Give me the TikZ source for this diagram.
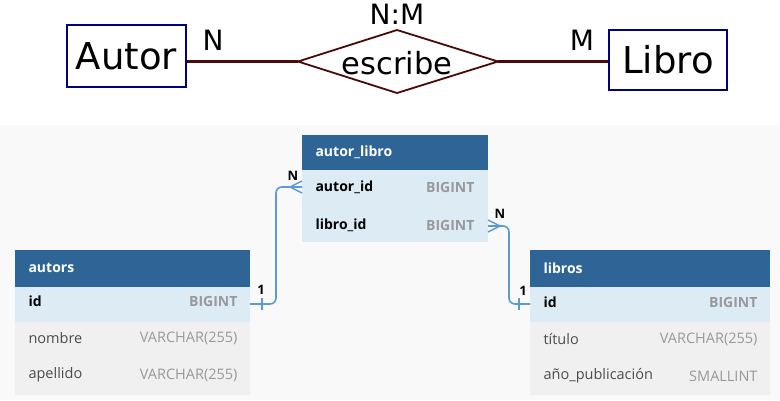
\documentclass[tikz,border=0pt]{standalone}
\usepackage{fontspec}
\setmainfont{Open Sans}
\newfontfamily\djv{DejaVu Sans}
\begin{document}
\definecolor{hdr}{HTML}{2F6596}
\definecolor{rowb}{HTML}{DDEBF5}
\definecolor{rowg}{HTML}{F0F0F0}
\definecolor{bgg}{HTML}{F9F9F9}
\definecolor{ln}{HTML}{5B9BD5}
\definecolor{er}{HTML}{4A0A0A}
\definecolor{nv}{HTML}{000080}
\definecolor{typ}{HTML}{999999}
\begin{tikzpicture}[x=1pt,y=-1pt,
  ent/.style={draw=nv,line width=1.6pt,inner sep=0pt,font=\djv\fontsize{37}{37}\selectfont},
  lab/.style={font=\djv\fontsize{28}{28}\selectfont},
  hd/.style={font=\bfseries\fontsize{14}{14}\selectfont,text=white,anchor=west},
  fld/.style={font=\fontsize{14.5}{14}\selectfont,anchor=west},
  bfld/.style={font=\bfseries\fontsize{14}{14}\selectfont,anchor=west},
  tp/.style={font=\fontsize{14.5}{14}\selectfont,text=typ,anchor=east},
  btp/.style={font=\bfseries\fontsize{14}{14}\selectfont,text=typ,anchor=east},
  con/.style={draw=ln,line width=1.6pt,rounded corners=6pt},
  card/.style={font=\bfseries\fontsize{13}{13}\selectfont}]
\useasboundingbox (0,0) rectangle (780,400);
\fill[white] (0,0) rectangle (780,125);
\fill[bgg] (0,125) rectangle (780,400);
% ER
\node[ent,minimum width=119pt,minimum height=62pt] (autor) at (126.5,56) {Autor};
\node[ent,minimum width=118pt,minimum height=60pt] (libro) at (668,60) {Libro};
\coordinate (dW) at (298,61.5);
\coordinate (dE) at (498,61.5);
\draw[er,line width=1.8pt] (dW) -- (397,30) -- (dE) -- (397,93) -- cycle;
\node[font=\djv\fontsize{30.5}{30}\selectfont] (rel) at (397,63) {escribe};
\draw[er,line width=3.5pt] (autor.east|-dW) -- (dW);
\draw[er,line width=3.5pt] (dE) -- (libro.west|-dE);
\node[lab] (n1) at (213,40) {N};
\node[lab] (m1) at (582,40) {M};
\node[lab] (nm) at (397,14) {N:M};
% autor_libro
\fill[hdr] (302,135) rectangle (488,170);
\fill[rowb] (302,170) rectangle (488,242);
\node[hd] (alh) at (312,152) {autor\_libro};
\node[bfld] (al1) at (312,187) {autor\_id};
\node[btp] (al1t) at (478,187) {BIGINT};
\node[bfld] (al2) at (312,225) {libro\_id};
\node[btp] (al2t) at (478,225) {BIGINT};
\coordinate (alL) at (302,187);
\coordinate (alR) at (488,226);
% autors
\fill[hdr] (15,250) rectangle (250,287);
\fill[rowb] (15,287) rectangle (250,322);
\fill[rowg] (15,322) rectangle (250,395);
\node[hd] (ah) at (25,268) {autors};
\node[bfld] (a1) at (25,301) {id};
\node[btp] (a1t) at (241,301) {BIGINT};
\node[fld,text=black!70] (a2) at (25,338) {nombre};
\node[tp] (a2t) at (241,338) {VARCHAR(255)};
\node[fld,text=black!70] (a3) at (25,375) {apellido};
\node[tp] (a3t) at (241,375) {VARCHAR(255)};
\coordinate (aR) at (250,304);
% libros
\fill[hdr] (530,250) rectangle (770,287);
\fill[rowb] (530,287) rectangle (770,322);
\fill[rowg] (530,322) rectangle (770,395);
\node[hd] (lh) at (540,268) {libros};
\node[bfld] (l1) at (540,302) {id};
\node[btp] (l1t) at (761,302) {BIGINT};
\node[fld,text=black!70] (l2) at (540,339) {título};
\node[tp] (l2t) at (761,339) {VARCHAR(255)};
\node[fld,text=black!70] (l3) at (540,376) {año\_publicación};
\node[tp] (l3t) at (761,376) {SMALLINT};
\coordinate (lL) at (530,304);
% connectors
\draw[con] (aR) -- (276,304) -- (276,187) -- (alL);
\draw[ln,line width=1.6pt] (262,298) -- (262,310);
\draw[ln,line width=1.4pt] (290,187) -- (302,181) (290,187) -- (302,193);
\draw[con] (alR) -- (509,226) -- (509,304) -- (lL);
\draw[ln,line width=1.6pt] (519,298) -- (519,310);
\draw[ln,line width=1.4pt] (500,226) -- (488,220) (500,226) -- (488,232);
\node[card] (c1) at (261,290) {1};
\node[card] (c2) at (293,176) {N};
\node[card] (c3) at (500,214) {N};
\node[card] (c4) at (523,291) {1};
\end{tikzpicture}
\end{document}
